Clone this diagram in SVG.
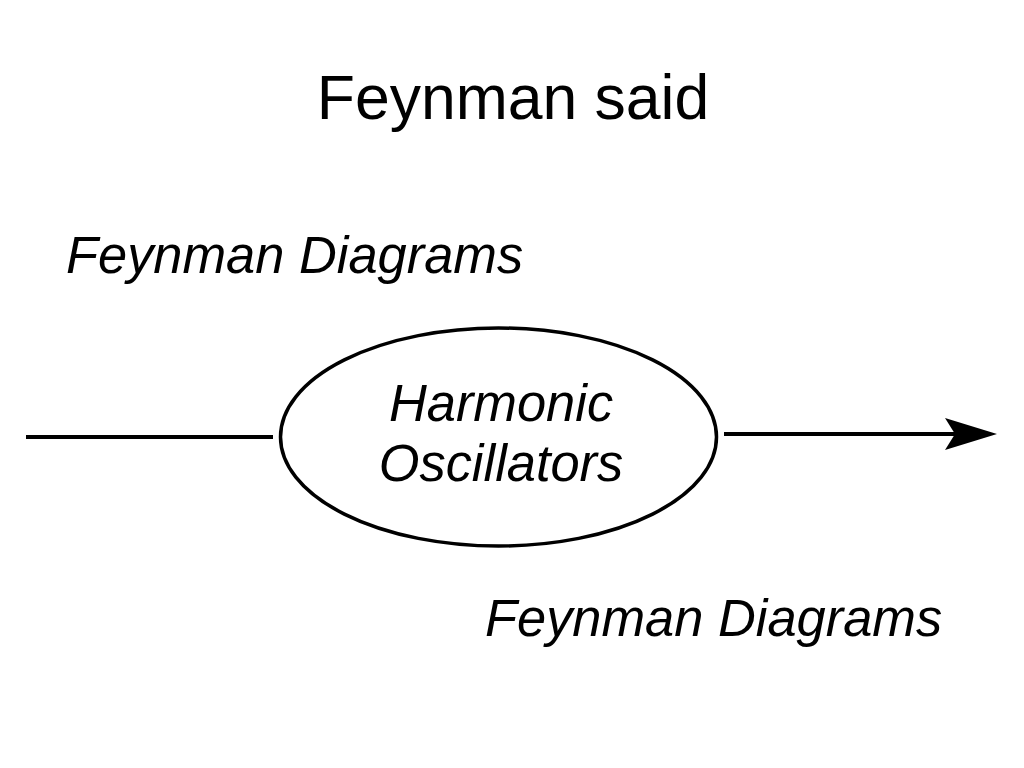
<svg xmlns="http://www.w3.org/2000/svg" width="1024" height="768" viewBox="0 0 1024 768">
<style>
text{font-family:"Liberation Sans",Arial,sans-serif;fill:#000}
.it{font-style:italic;font-size:52.4px}
.ln{stroke:#000;stroke-width:4;fill:none}
</style>
<defs>
<marker id="ah" markerUnits="userSpaceOnUse" markerWidth="56" markerHeight="36" refX="40" refY="17" orient="auto">
<path d="M52,17 L0,1 L10,17 L0,33 Z" fill="#000"/>
</marker>
</defs>
<rect width="1024" height="768" fill="#fff"/>
<text x="513" y="119" font-size="62.5" text-anchor="middle">Feynman said</text>
<text class="it" x="66" y="273">Feynman Diagrams</text>
<text class="it" x="485" y="636">Feynman Diagrams</text>
<g id="connectors">
<line class="ln" x1="26" y1="437" x2="273" y2="437"/>
<line class="ln" x1="724" y1="434" x2="985" y2="434" marker-end="url(#ah)"/>
</g>
<g id="node-oscillators">
<ellipse cx="498.5" cy="437" rx="218" ry="109" fill="none" stroke="#000" stroke-width="3.5"/>
<text class="it" x="501" y="421" text-anchor="middle" font-size="50">Harmonic</text>
<text class="it" x="501" y="481" text-anchor="middle" font-size="50">Oscillators</text>
</g>
</svg>
